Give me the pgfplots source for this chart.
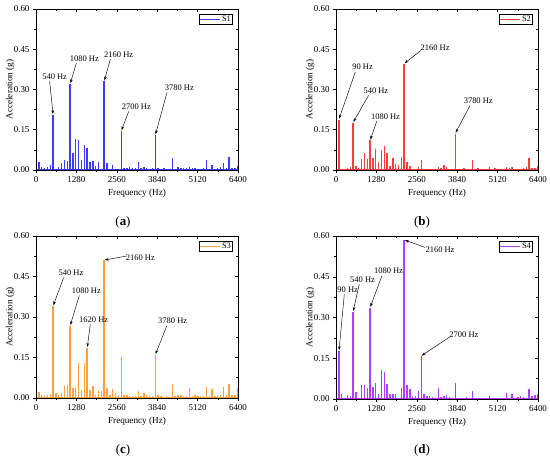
\documentclass[border=0pt]{standalone}
\usepackage{pgfplots}
\pgfplotsset{compat=1.18}
\usepackage{fontspec}
\setmainfont{Liberation Serif}
\usetikzlibrary{arrows.meta}
\definecolor{cS1}{RGB}{60,60,255}
\definecolor{cS2}{RGB}{255,60,60}
\definecolor{cS3}{RGB}{255,160,60}
\definecolor{cS4}{RGB}{178,60,255}
\tikzset{
  ann/.style={-{Stealth[length=4bp,width=2.6bp]}, line width=0.45bp, black, shorten >=0.3bp},
  annt/.style={font=\fontsize{8.5}{9}\selectfont, inner sep=0pt}
}
\pgfplotsset{
  panel/.style={width=202bp,height=161bp,scale only axis,anchor=south west,
    xmin=0,xmax=6400,ymin=0,ymax=0.6,
    xtick={0,1280,2560,3840,5120,6400}, ytick={0,0.15,0.3,0.45,0.6},
    minor x tick num=1, minor y tick num=1,
    scaled x ticks=false, scaled y ticks=false,
    axis line style={line width=0.6bp,black},
    every tick/.style={line width=0.5bp,black},
    major tick length=3bp, minor tick length=1.8bp,
    /pgf/number format/assume math mode=true,
    /pgf/number format/1000 sep={},
    tick label style={font=\fontsize{9}{9}\selectfont},
    yticklabel style={/pgf/number format/.cd,fixed,fixed zerofill,precision=2},
    clip mode=individual},
  mainax/.style={panel, tick pos=left, tick align=outside,
    xlabel={Frequency (Hz)}, ylabel={Acceleration (g)},
    label style={font=\fontsize{9.2}{10}\selectfont},
    xlabel style={at={(axis description cs:0.5,-0.143)},anchor=center},
    ylabel style={at={(axis description cs:-0.128,0.5)},anchor=center},
    legend style={at={(rel axis cs:0.974,0.968)},anchor=north east,
      draw=black,line width=0.4bp,inner sep=0.6bp,
      font=\fontsize{8.5}{8.5}\selectfont,
      nodes={inner sep=1bp}},
    legend cell align=left,
    legend image code/.code={\draw[##1,line width=1.4bp] (0bp,0bp) -- (20bp,0bp);}},
  mirrorax/.style={panel, tick pos=right, tick align=inside,
    xticklabel=\empty, yticklabel=\empty},
  spk/.style={ycomb, no marks, line width=1.4bp, draw=#1, color=#1, line cap=butt},
  base/.style={no marks, line width=0.8bp, draw=#1, forget plot}
}
\begin{document}
\begin{tikzpicture}
\useasboundingbox (0,0) rectangle (550bp,458bp);
% ---------------- (a) ----------------
\begin{axis}[mainax, at={(36bp,288bp)}]
\addplot[base=cS1] coordinates {(0,0.003) (6400,0.003)};
\addplot[spk=cS1] coordinates {
(0,0.18) (90,0.028) (180,0.012) (270,0.008) (360,0.012) (450,0.018) (540,0.205) (630,0.005) (720,0.012) (810,0.025) (900,0.038) (990,0.033) (1080,0.32) (1170,0.065) (1260,0.115) (1350,0.11) (1440,0.036) (1530,0.092) (1620,0.082) (1710,0.03) (1800,0.033) (1890,0.015) (1980,0.03) (2070,0.005) (2160,0.33) (2250,0.025) (2340,0.005) (2430,0.02) (2520,0.005) (2610,0.005) (2700,0.145) (2790,0.006) (2880,0.006) (2970,0.01) (3060,0.007) (3150,0.006) (3240,0.028) (3330,0.006) (3420,0.01) (3510,0.006) (3600,0.005) (3690,0.006) (3780,0.13) (3870,0.006) (3960,0.005) (4050,0.006) (4140,0.005) (4230,0.005) (4320,0.045) (4410,0.005) (4500,0.01) (4590,0.008) (4680,0.008) (4770,0.006) (4860,0.01) (4950,0.008) (5040,0.006) (5130,0.005) (5220,0.005) (5310,0.006) (5400,0.038) (5490,0.005) (5580,0.02) (5670,0.005) (5760,0.008) (5850,0.01) (5940,0.026) (6030,0.008) (6120,0.047) (6210,0.008) (6300,0.006) (6390,0.015)};
\addlegendentry{S1}
\draw[ann] (axis cs:433,0.33) -- (axis cs:540,0.207);
\node[annt] at (axis cs:591,0.348) {540 Hz};
\draw[ann] (axis cs:1278,0.398) -- (axis cs:1085,0.322);
\node[annt] at (axis cs:1531,0.415) {1080 Hz};
\draw[ann] (axis cs:2355,0.413) -- (axis cs:2165,0.332);
\node[annt] at (axis cs:2619,0.430) {2160 Hz};
\draw[ann] (axis cs:2936,0.218) -- (axis cs:2705,0.147);
\node[annt] at (axis cs:3179,0.234) {2700 Hz};
\draw[ann] (axis cs:4150,0.289) -- (axis cs:3785,0.132);
\node[annt] at (axis cs:4541,0.307) {3780 Hz};
\end{axis}
\begin{axis}[mirrorax, at={(36bp,288bp)}]
\end{axis}
% ---------------- (b) ----------------
\begin{axis}[mainax, at={(336bp,288bp)}]
\addplot[base=cS2] coordinates {(0,0.003) (6400,0.003)};
\addplot[spk=cS2] coordinates {
(0,0.03) (90,0.188) (180,0.005) (270,0.005) (360,0.008) (450,0.01) (540,0.176) (630,0.015) (720,0.008) (810,0.04) (900,0.063) (990,0.042) (1080,0.11) (1170,0.045) (1260,0.08) (1350,0.028) (1440,0.075) (1530,0.09) (1620,0.062) (1710,0.015) (1800,0.045) (1890,0.022) (1980,0.018) (2070,0.05) (2160,0.395) (2250,0.028) (2340,0.015) (2430,0.005) (2520,0.005) (2610,0.01) (2700,0.038) (2790,0.005) (2880,0.005) (2970,0.004) (3060,0.005) (3150,0.004) (3240,0.01) (3330,0.006) (3420,0.018) (3510,0.01) (3600,0.005) (3690,0.004) (3780,0.136) (3870,0.004) (3960,0.005) (4050,0.008) (4140,0.004) (4230,0.005) (4320,0.038) (4410,0.005) (4500,0.008) (4590,0.005) (4680,0.004) (4770,0.005) (4860,0.01) (4950,0.005) (5040,0.008) (5130,0.004) (5220,0.005) (5310,0.005) (5400,0.012) (5490,0.006) (5580,0.012) (5670,0.004) (5760,0.005) (5850,0.005) (5940,0.008) (6030,0.01) (6120,0.045) (6210,0.006) (6300,0.008) (6390,0.015)};
\addlegendentry{S2}
\draw[ann] (axis cs:611,0.365) -- (axis cs:95,0.19);
\node[annt] at (axis cs:842,0.385) {90 Hz};
\draw[ann] (axis cs:1032,0.278) -- (axis cs:545,0.178);
\node[annt] at (axis cs:1264,0.297) {540 Hz};
\draw[ann] (axis cs:1295,0.183) -- (axis cs:1085,0.112);
\node[annt] at (axis cs:1569,0.198) {1080 Hz};
\draw[ann] (axis cs:2685,0.445) -- (axis cs:2165,0.397);
\node[annt] at (axis cs:3138,0.454) {2160 Hz};
\draw[ann] (axis cs:4244,0.24) -- (axis cs:3785,0.138);
\node[annt] at (axis cs:4507,0.257) {3780 Hz};
\end{axis}
\begin{axis}[mirrorax, at={(336bp,288bp)}]
\end{axis}
% ---------------- (c) ----------------
\begin{axis}[mainax, at={(36bp,60bp)}, height=162bp]
\addplot[base=cS3] coordinates {(0,0.003) (6400,0.003)};
\addplot[spk=cS3] coordinates {
(0,0.09) (90,0.022) (180,0.012) (270,0.008) (360,0.01) (450,0.015) (540,0.34) (630,0.02) (720,0.012) (810,0.02) (900,0.045) (990,0.048) (1080,0.267) (1170,0.038) (1260,0.042) (1350,0.128) (1440,0.03) (1530,0.13) (1620,0.186) (1710,0.03) (1800,0.045) (1890,0.012) (1980,0.028) (2070,0.025) (2160,0.511) (2250,0.038) (2340,0.012) (2430,0.032) (2520,0.02) (2610,0.01) (2700,0.152) (2790,0.01) (2880,0.012) (2970,0.008) (3060,0.008) (3150,0.006) (3240,0.025) (3330,0.008) (3420,0.018) (3510,0.01) (3600,0.008) (3690,0.006) (3780,0.16) (3870,0.01) (3960,0.006) (4050,0.005) (4140,0.006) (4230,0.005) (4320,0.053) (4410,0.006) (4500,0.01) (4590,0.01) (4680,0.008) (4770,0.006) (4860,0.038) (4950,0.008) (5040,0.01) (5130,0.006) (5220,0.006) (5310,0.008) (5400,0.04) (5490,0.006) (5580,0.035) (5670,0.006) (5760,0.012) (5850,0.01) (5940,0.04) (6030,0.012) (6120,0.053) (6210,0.01) (6300,0.012) (6390,0.038)};
\addlegendentry{S3}
\draw[ann] (axis cs:876,0.446) -- (axis cs:545,0.342);
\node[annt] at (axis cs:1109,0.464) {540 Hz};
\draw[ann] (axis cs:1373,0.380) -- (axis cs:1085,0.269);
\node[annt] at (axis cs:1595,0.398) {1080 Hz};
\draw[ann] (axis cs:1721,0.273) -- (axis cs:1625,0.188);
\node[annt] at (axis cs:1827,0.289) {1620 Hz};
\draw[ann] (axis cs:2883,0.526) -- (axis cs:2165,0.511);
\node[annt] at (axis cs:3305,0.52) {2160 Hz};
\draw[ann] (axis cs:4150,0.269) -- (axis cs:3785,0.162);
\node[annt] at (axis cs:4330,0.288) {3780 Hz};
\end{axis}
\begin{axis}[mirrorax, at={(36bp,60bp)}, height=162bp]
\end{axis}
% ---------------- (d) ----------------
\begin{axis}[mainax, at={(336bp,59bp)}, height=163bp]
\addplot[base=cS4] coordinates {(0,0.003) (6400,0.003)};
\addplot[spk=cS4] coordinates {
(0,0.03) (90,0.176) (180,0.02) (270,0.005) (360,0.015) (450,0.012) (540,0.321) (630,0.025) (720,0.005) (810,0.052) (900,0.05) (990,0.042) (1080,0.336) (1170,0.045) (1260,0.06) (1350,0.02) (1440,0.107) (1530,0.1) (1620,0.055) (1710,0.018) (1800,0.02) (1890,0.018) (1980,0.005) (2070,0.042) (2160,0.585) (2250,0.052) (2340,0.038) (2430,0.012) (2520,0.01) (2610,0.028) (2700,0.157) (2790,0.02) (2880,0.01) (2970,0.01) (3060,0.006) (3150,0.005) (3240,0.042) (3330,0.006) (3420,0.01) (3510,0.015) (3600,0.008) (3690,0.005) (3780,0.058) (3870,0.005) (3960,0.004) (4050,0.005) (4140,0.008) (4230,0.005) (4320,0.028) (4410,0.005) (4500,0.005) (4590,0.004) (4680,0.005) (4770,0.004) (4860,0.012) (4950,0.005) (5040,0.004) (5130,0.005) (5220,0.004) (5310,0.005) (5400,0.022) (5490,0.005) (5580,0.018) (5670,0.004) (5760,0.008) (5850,0.01) (5940,0.008) (6030,0.005) (6120,0.038) (6210,0.012) (6300,0.015) (6390,0.02)};
\addlegendentry{S4}
\draw[ann] (axis cs:263,0.385) -- (axis cs:95,0.178);
\node[annt] at (axis cs:369,0.401) {90 Hz};
\draw[ann] (axis cs:737,0.423) -- (axis cs:545,0.323);
\node[annt] at (axis cs:842,0.440) {540 Hz};
\draw[ann] (axis cs:1453,0.453) -- (axis cs:1085,0.338);
\node[annt] at (axis cs:1664,0.471) {1080 Hz};
\draw[ann] (axis cs:2822,0.558) -- (axis cs:2175,0.585);
\node[annt] at (axis cs:3296,0.549) {2160 Hz};
\draw[ann] (axis cs:3612,0.229) -- (axis cs:2705,0.159);
\node[annt] at (axis cs:4054,0.235) {2700 Hz};
\end{axis}
\begin{axis}[mirrorax, at={(336bp,59bp)}, height=163bp]
\end{axis}
% ---------------- panel letters ----------------
\node[font=\fontsize{13}{13}\selectfont] at (123bp,236bp) {(\textbf{a})};
\node[font=\fontsize{13}{13}\selectfont] at (422bp,236bp) {(\textbf{b})};
\node[font=\fontsize{13}{13}\selectfont] at (123bp,8bp) {(\textbf{c})};
\node[font=\fontsize{13}{13}\selectfont] at (422bp,8bp) {(\textbf{d})};
\end{tikzpicture}
\end{document}
